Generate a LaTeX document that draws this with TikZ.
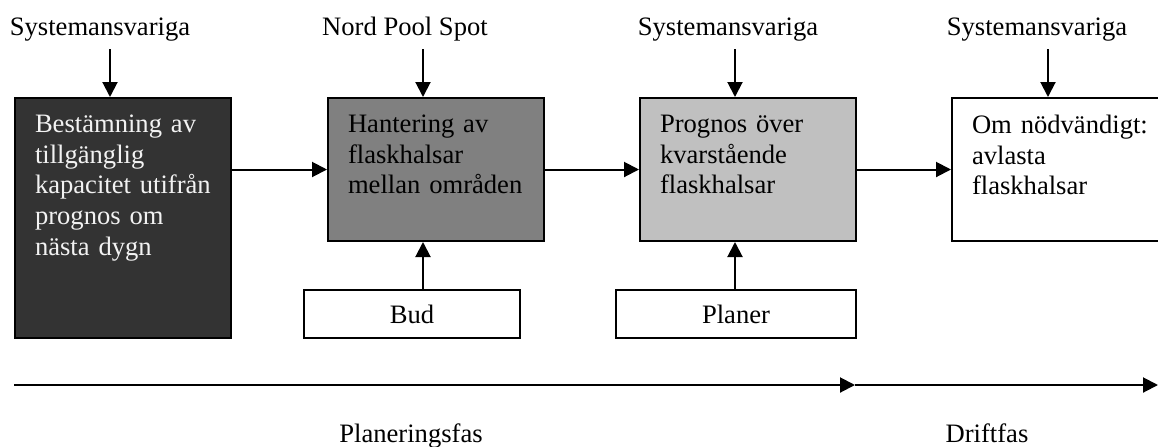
\documentclass[tikz,border=0pt]{standalone}
\usepackage{fontspec}
\setmainfont{Liberation Serif}
\usepackage{tikz}
\usetikzlibrary{arrows.meta}
\usepackage{xcolor}
\definecolor{darkbox}{HTML}{333333}
\definecolor{midbox}{HTML}{808080}
\definecolor{lightbox}{HTML}{C0C0C0}

\begin{document}
\begin{tikzpicture}[x=0.5pt,y=-0.5pt,
		font=\fontsize{13.3}{15.3}\selectfont,
		>={Triangle[length=7.5pt,width=7.5pt]},
		line width=1pt,
		stage/.style={draw,rectangle,inner sep=0,anchor=north west,minimum width=108pt,minimum height=71.5pt},
		input/.style={draw,rectangle,inner sep=0,anchor=north west,minimum height=24pt},
		boxtext/.style={anchor=north west,inner sep=0,text width=96pt,align=left,xshift=10pt,yshift=-8.5pt},
		who/.style={anchor=base,inner sep=0}]
				\useasboundingbox (0,0) rectangle (1158,446);
				
				\node(B1) at (14,97)[stage,fill=darkbox,minimum height=120pt]{};
				\node(H) at (327,97)[stage,fill=midbox]{};
				\node(P) at (639,97)[stage,fill=lightbox]{};
				\node(O) at (951,97)[stage,fill=white]{};
				\node(Bud) at (303,289)[input,minimum width=108pt]{Bud};
				\node(Pl) at (615,289)[input,minimum width=120pt]{Planer};
				
				\node(B1t) at (B1.north west)[boxtext,text=white!95!black]{Bestämning av\\tillgänglig\\kapacitet utifrån\\prognos om\\nästa dygn};
				\node(Ht) at (H.north west)[boxtext]{Hantering av\\flaskhalsar\\mellan områden};
				\node(Pt) at (P.north west)[boxtext]{Prognos över\\kvarstående\\flaskhalsar};
				\node(Ot) at (O.north west)[boxtext]{Om nödvändigt:\\avlasta\\flaskhalsar};
				
				\node(S1) at (100,35)[who]{Systemansvariga};
				\node(NP) at (405,35)[who]{Nord Pool Spot};
				\node(S2) at (728,35)[who]{Systemansvariga};
				\node(S3) at (1037,35)[who]{Systemansvariga};
				
				\coordinate(t1) at (110,49);
				\coordinate(t2) at (423,49);
				\coordinate(t3) at (735,49);
				\coordinate(t4) at (1048,49);
				
				\draw[->] (t1) to (B1.north -| t1);
				\draw[->] (t2) to (H.north -| t2);
				\draw[->] (t3) to (P.north -| t3);
				\draw[->] (t4) to (O.north -| t4);
				
				\draw[->] (B1.east |- H.west) to (H.west);
				\draw[->] (H.east) to (P.west);
				\draw[->] (P.east) to (O.west);
				
				\draw[->] (Bud.north -| t2) to (H.south -| t2);
				\draw[->] (Pl.north -| t3) to (P.south -| t3);
				
				\coordinate(s) at (14,385);
				\coordinate(m) at (855,385);
				\coordinate(e) at (1158,385);
				\draw[->] (s) to (m);
				\draw[->] (m) to (e);
				
				\node(PF) at (411,442)[who]{Planeringsfas};
				\node(DF) at (987,442)[who]{Driftfas};
			\end{tikzpicture}
\end{document}
